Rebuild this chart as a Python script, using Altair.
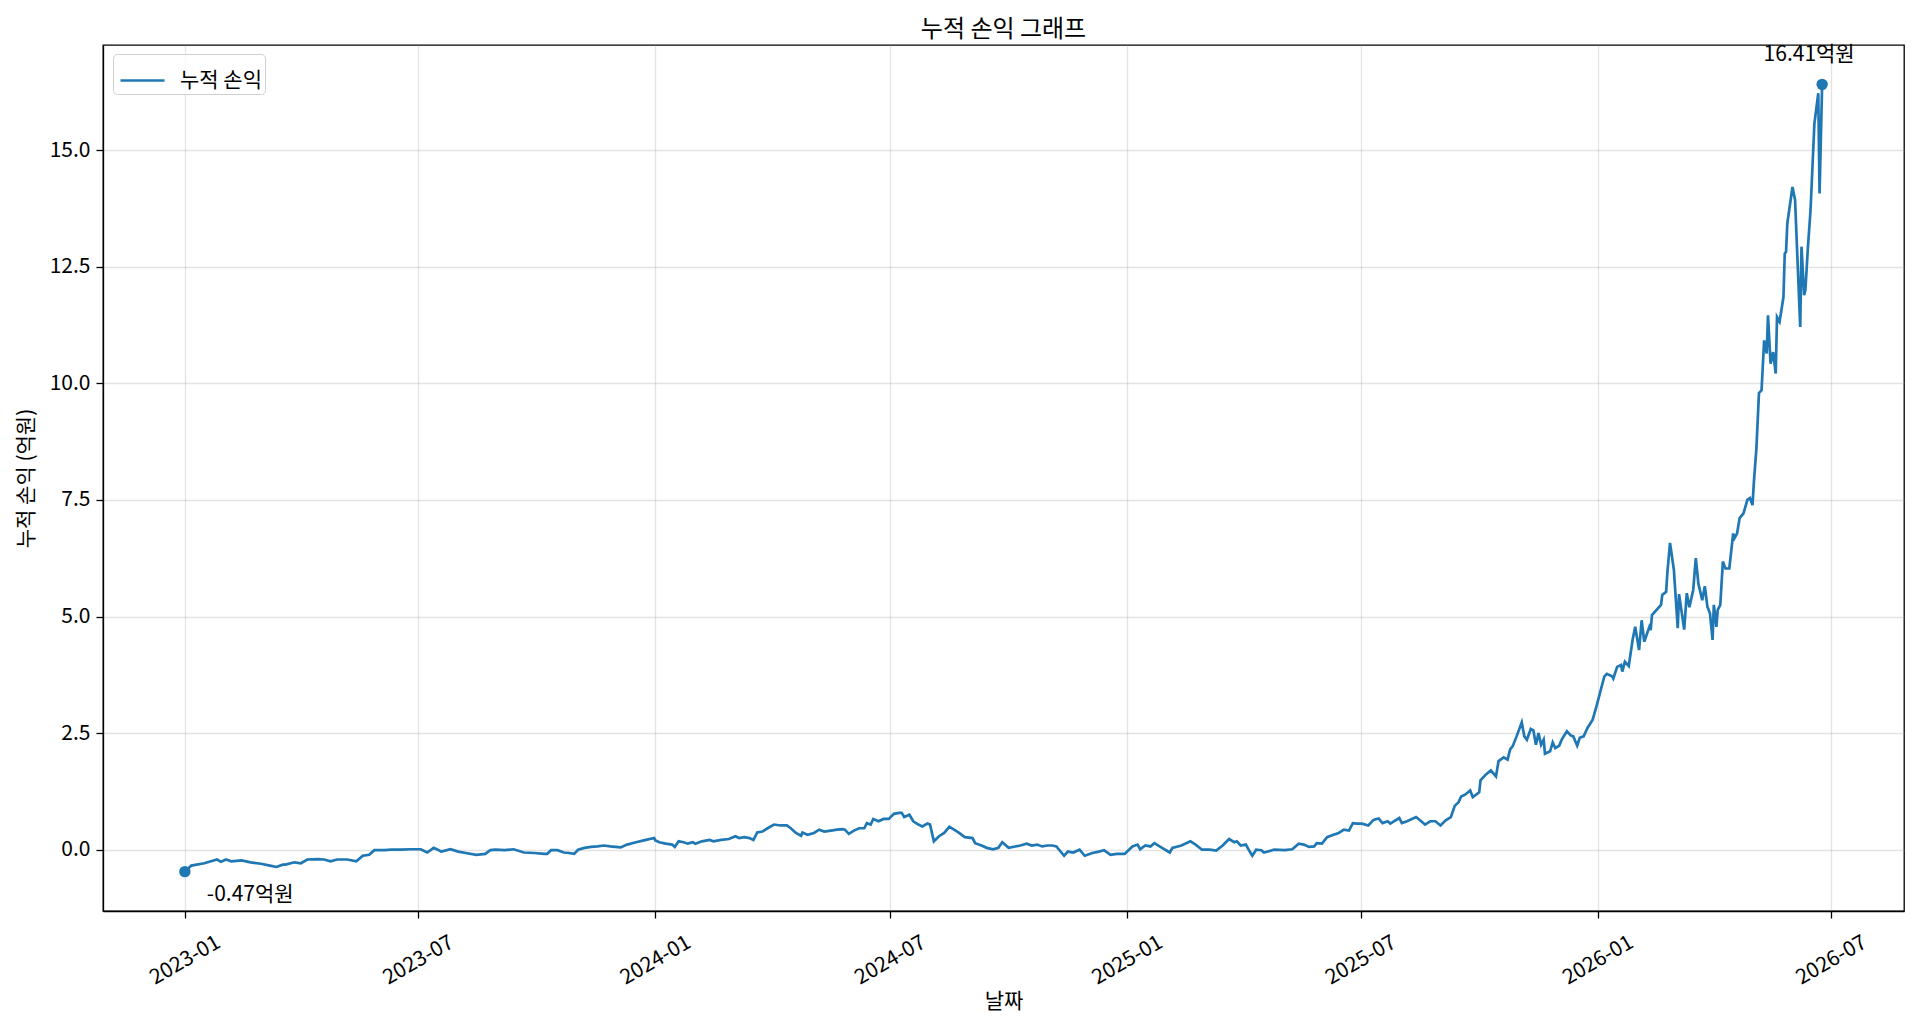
import altair as alt
import pandas as pd

# ---------------- data ----------------
start_date = "2023-01-01"
# day offsets from start_date
day_offsets = [
    0, 5, 15, 25, 28, 32, 36, 44, 51, 59, 66, 71, 76, 78, 85, 90, 95, 103, 108, 113,
    118, 126, 133, 138, 143, 147, 155, 160, 168, 175, 183, 188, 193, 199, 206, 212, 218, 226, 233, 237,
    241, 248, 255, 263, 271, 279, 281, 284, 289, 294, 298, 302, 305, 310, 315, 320, 325, 330, 338, 343,
    350, 356, 364, 365, 368, 373, 378, 380, 383, 387, 390, 394, 396, 401, 407, 410, 416, 422, 427, 430,
    434, 438, 441, 444, 448, 452, 457, 462, 467, 470, 474, 478, 479, 483, 488, 492, 496, 501, 506, 510,
    512, 515, 519, 523, 527, 529, 532, 534, 538, 542, 546, 550, 554, 556, 558, 562, 565, 569, 572, 576,
    578, 581, 585, 589, 593, 596, 600, 605, 611, 613, 618, 622, 627, 631, 634, 639, 644, 648, 653, 657,
    661, 665, 669, 673, 676, 682, 685, 689, 694, 698, 704, 709, 713, 718, 723, 729, 735, 739, 741, 745,
    749, 752, 758, 764, 766, 773, 780, 784, 789, 795, 800, 805, 810, 814, 816, 819, 823, 826, 828, 831,
    835, 837, 845, 853, 859, 864, 868, 872, 876, 878, 882, 886, 891, 895, 899, 903, 906, 909, 913, 918,
    922, 926, 929, 933, 935, 942, 944, 948, 955, 959, 962, 966, 970, 974, 978, 982, 985, 988, 990, 993,
    997, 999, 1004, 1005, 1009, 1013, 1017, 1019, 1023, 1026, 1028, 1030, 1033, 1037, 1039, 1041, 1044, 1046, 1048, 1050,
    1052, 1054, 1055, 1059, 1061, 1063, 1066, 1068, 1072, 1075, 1077, 1080, 1082, 1085, 1088, 1092, 1095, 1101, 1103, 1107,
    1108, 1111, 1114, 1115, 1117, 1120, 1123, 1125, 1128, 1130, 1132, 1136, 1137, 1138, 1145, 1146, 1149, 1150, 1152, 1155,
    1158, 1159, 1163, 1165, 1167, 1170, 1172, 1174, 1177, 1179, 1181, 1183, 1185, 1186, 1188, 1189, 1191, 1193, 1195, 1198,
    1201, 1202, 1204, 1206, 1209, 1212, 1214, 1216, 1217, 1219, 1221, 1223, 1225, 1227, 1228, 1230, 1232, 1234, 1235, 1237,
    1240, 1241, 1242, 1243, 1247, 1249, 1251, 1253, 1254, 1256, 1257, 1259, 1261, 1264, 1267, 1268, 1270,
]
# cumulative P&L, in 억원
pnl_values = [
    -0.47, -0.34, -0.29, -0.21, -0.26, -0.21, -0.25, -0.23, -0.27, -0.30, -0.34, -0.37, -0.32, -0.32, -0.27, -0.29, -0.21, -0.20, -0.21, -0.25,
    -0.21, -0.21, -0.25, -0.13, -0.11, -0.01, -0.01, 0.00, 0.00, 0.01, 0.01, -0.06, 0.04, -0.04, 0.01, -0.04, -0.07, -0.11, -0.09, -0.01,
    0.00, -0.01, 0.01, -0.06, -0.07, -0.09, -0.09, -0.01, -0.01, -0.06, -0.07, -0.09, 0.00, 0.04, 0.06, 0.07, 0.09, 0.07, 0.05, 0.11,
    0.16, 0.20, 0.25, 0.20, 0.16, 0.13, 0.11, 0.06, 0.18, 0.16, 0.13, 0.16, 0.13, 0.18, 0.21, 0.18, 0.21, 0.23, 0.29, 0.25,
    0.27, 0.25, 0.21, 0.37, 0.39, 0.46, 0.54, 0.52, 0.52, 0.46, 0.36, 0.30, 0.37, 0.32, 0.36, 0.43, 0.39, 0.41, 0.43, 0.44,
    0.43, 0.34, 0.41, 0.46, 0.46, 0.57, 0.54, 0.66, 0.61, 0.66, 0.66, 0.77, 0.79, 0.79, 0.70, 0.75, 0.61, 0.54, 0.50, 0.56,
    0.54, 0.18, 0.29, 0.36, 0.49, 0.44, 0.37, 0.27, 0.25, 0.14, 0.09, 0.04, 0.01, 0.04, 0.16, 0.04, 0.07, 0.09, 0.13, 0.09,
    0.11, 0.07, 0.09, 0.09, 0.07, -0.13, -0.04, -0.06, 0.00, -0.13, -0.07, -0.04, -0.01, -0.11, -0.09, -0.09, 0.07, 0.11, 0.01, 0.09,
    0.07, 0.14, 0.04, -0.06, 0.04, 0.09, 0.18, 0.11, 0.00, 0.00, -0.02, 0.09, 0.23, 0.16, 0.18, 0.09, 0.11, -0.04, -0.13, 0.00,
    -0.01, -0.06, 0.00, -0.01, 0.01, 0.13, 0.11, 0.06, 0.07, 0.14, 0.13, 0.27, 0.32, 0.36, 0.43, 0.41, 0.57, 0.56, 0.56, 0.52,
    0.64, 0.67, 0.57, 0.61, 0.56, 0.68, 0.57, 0.61, 0.70, 0.61, 0.54, 0.61, 0.61, 0.52, 0.63, 0.70, 0.94, 1.02, 1.14, 1.18,
    1.27, 1.13, 1.23, 1.49, 1.61, 1.70, 1.57, 1.90, 1.98, 1.93, 2.15, 2.22, 2.43, 2.73, 2.43, 2.36, 2.59, 2.56, 2.25, 2.50,
    2.25, 2.36, 2.06, 2.11, 2.30, 2.18, 2.23, 2.36, 2.54, 2.45, 2.43, 2.23, 2.40, 2.43, 2.61, 2.79, 3.08, 3.71, 3.77, 3.72,
    3.67, 3.92, 3.96, 3.82, 4.03, 3.94, 4.50, 4.78, 4.28, 4.92, 4.46, 4.78, 4.71, 5.03, 5.25, 5.46, 5.53, 5.96, 6.58, 6.00,
    4.75, 5.48, 4.72, 5.50, 5.20, 5.57, 6.25, 5.71, 5.35, 5.65, 5.21, 5.07, 4.50, 5.25, 4.78, 5.14, 5.25, 6.18, 6.03, 6.03,
    6.78, 6.68, 6.78, 7.11, 7.21, 7.50, 7.54, 7.39, 7.86, 8.60, 9.79, 9.85, 10.92, 10.64, 11.46, 10.42, 10.67, 10.21, 11.42, 11.32,
    11.85, 12.78, 12.82, 13.43, 14.21, 13.93, 12.57, 11.21, 12.93, 11.89, 12.00, 12.93, 13.71, 15.57, 16.22, 14.07, 16.41,
]
series_name = "누적 손익"
title_text = "누적 손익 그래프"
x_title = "날짜"
y_title = "누적 손익 (억원)"
unit_suffix = "억원"
y_tick_values = [0.0, 2.5, 5.0, 7.5, 10.0, 12.5, 15.0]
x_tick_months = [(2023, 1), (2023, 7), (2024, 1), (2024, 7), (2025, 1), (2025, 7), (2026, 1), (2026, 7)]

# ---------------- build table ----------------
dates = pd.Timestamp(start_date) + pd.to_timedelta(day_offsets, unit="D")
df = pd.DataFrame({
    "date": dates.strftime("%Y-%m-%dT%H:%M:%S"),
    "value": pnl_values,
    "series": series_name,
})
df_start = df.iloc[[0]].copy()
df_end = df.iloc[[-1]].copy()
df_start["label"] = [f"{v:.2f}{unit_suffix}" for v in df_start["value"]]
df_end["label"] = [f"{v:.2f}{unit_suffix}" for v in df_end["value"]]

# matplotlib-like 5% margins
vmin, vmax = min(pnl_values), max(pnl_values)
vspan = vmax - vmin
y_domain = [vmin - 0.05 * vspan, vmax + 0.05 * vspan]
tspan = dates[-1] - dates[0]
t_lo = dates[0] - tspan * 0.05
t_hi = dates[-1] + tspan * 0.05


def to_dt(ts):
    return alt.DateTime(year=int(ts.year), month=int(ts.month), date=int(ts.day),
                        hours=int(ts.hour), minutes=int(ts.minute))


x_domain = [to_dt(t_lo), to_dt(t_hi)]
x_tick_vals = [alt.DateTime(year=y, month=m, date=1) for (y, m) in x_tick_months]

FONT = "Noto Sans CJK KR"
BLUE = "#1f77b4"
FS = 21

x_enc = alt.X(
    "date:T",
    scale=alt.Scale(domain=x_domain, nice=False),
    axis=alt.Axis(
        title=x_title, values=x_tick_vals, format="%Y-%m",
        labelAngle=330, labelAlign="center", labelBaseline="middle",
        labelPadding=42, grid=True,
        titleY=90, titleBaseline="middle",
    ),
)
y_enc = alt.Y(
    "value:Q",
    scale=alt.Scale(domain=y_domain, nice=False, zero=False),
    axis=alt.Axis(
        title=y_title, values=y_tick_values, format=".1f", grid=True,
        titleX=-77, titleY=433, titleAngle=270, titleBaseline="middle", titleAlign="center",
    ),
)

line = alt.Chart(df).mark_line(strokeWidth=2.7).encode(
    x=x_enc,
    y=y_enc,
    color=alt.Color(
        "series:N",
        scale=alt.Scale(domain=[series_name], range=[BLUE]),
        legend=alt.Legend(
            title=None, orient="none", legendX=10, legendY=9,
            symbolType="stroke", symbolSize=1936, symbolStrokeWidth=2.7, symbolOffset=3,
            labelFontSize=FS, labelFont=FONT, labelColor="black", labelOffset=14,
            strokeColor="#d0d0d0", fillColor="rgba(255,255,255,0.8)", cornerRadius=4, padding=3,
        ),
    ),
)

points_start = alt.Chart(df_start).mark_circle(size=130, color=BLUE, opacity=1).encode(
    x="date:T", y="value:Q")
points_end = alt.Chart(df_end).mark_circle(size=130, color=BLUE, opacity=1).encode(
    x="date:T", y="value:Q")

text_start = alt.Chart(df_start).mark_text(
    align="left", baseline="middle", dx=22, dy=23, fontSize=FS, font=FONT, color="black"
).encode(x="date:T", y="value:Q", text="label:N")
text_end = alt.Chart(df_end).mark_text(
    align="center", baseline="middle", dx=-13, dy=-29, fontSize=FS, font=FONT, color="black"
).encode(x="date:T", y="value:Q", text="label:N")

chart = alt.layer(line, points_start, points_end, text_start, text_end).properties(
    width=1801,
    height=866,
    background="white",
    title=alt.TitleParams(
        title_text, fontSize=24, font=FONT, fontWeight="normal", color="black",
        anchor="middle", offset=-22, baseline="bottom",
    ),
    autosize=alt.AutoSizeParams(type="none"),
    padding={"left": 95, "top": 37, "right": 4, "bottom": 106},
).configure_view(
    stroke="black", strokeWidth=1.3,
).configure_axis(
    labelFont=FONT, titleFont=FONT, labelFontSize=FS, titleFontSize=FS,
    labelColor="black", titleColor="black", titleFontWeight="normal",
    domainColor="black", domainWidth=1.3,
    tickColor="black", tickWidth=1.3, tickSize=7,
    gridColor="#b0b0b0", gridOpacity=0.35, gridWidth=1.3,
    labelPadding=6,
)

chart.save("out.html", embed_options={"renderer": "svg", "actions": False})
